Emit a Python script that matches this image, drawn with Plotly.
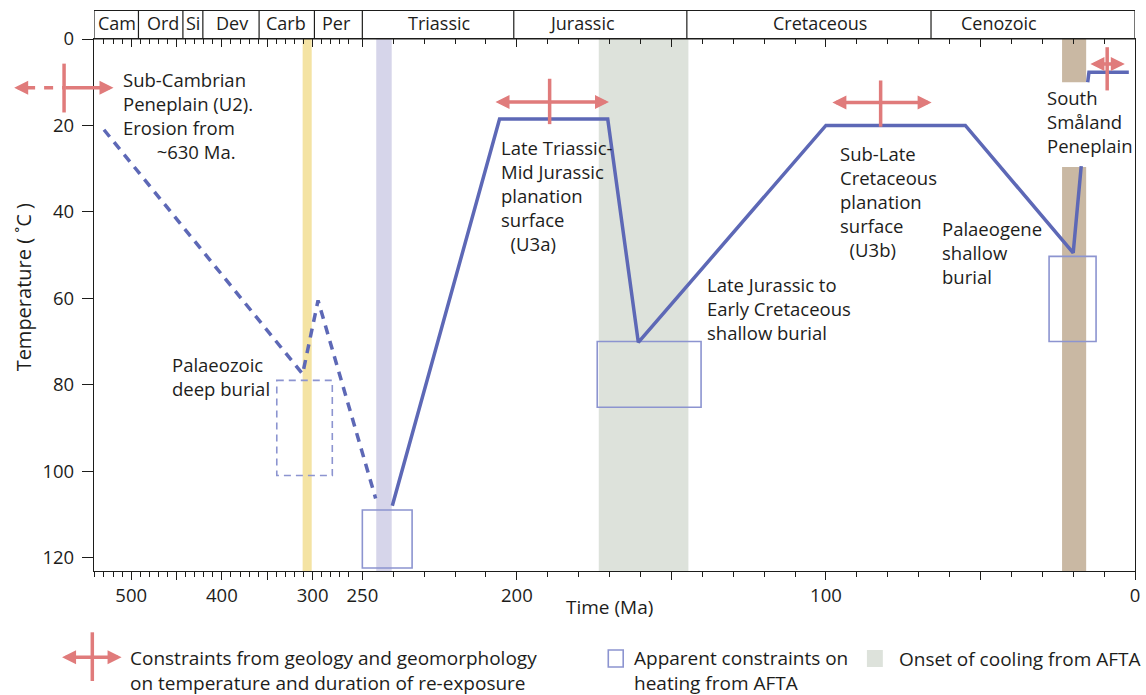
import plotly.graph_objects as go

# ---------------- DATA ----------------
# Geological time scale (boundaries in Ma) and labels
period_bounds = [541, 492, 443, 421, 359, 298, 250, 201, 145, 66, 0]
period_names = ["Cam", "Ord", "Si", "Dev", "Carb", "Per", "Triassic", "Jurassic", "Cretaceous", "Cenozoic"]
period_label_ma = [516, 465, 432, 389, 329, 274, 225, 179, 102, 44]

# Time-temperature path: poorly constrained Palaeozoic part (dashed)
dashed_ma = [530, 311, 294, 245.7]
dashed_temp = [21, 77.5, 60.5, 106.3]
# Mesozoic-Cenozoic path (solid); None = gap behind the label
solid_ma = [240.3, 205.6, 170.6, 160.7, 100, 54.9, 20, 17.4, None, 15.3, 14.9, 2]
solid_temp = [108, 18.5, 18.5, 70.2, 20, 20, 49.5, 29.4, None, 10, 7.7, 7.7]

# Apparent constraints on heating from AFTA (boxes)
box_ma_old = [339.5, 250, 174, 27.8]
box_ma_young = [278.3, 233.9, 140.4, 12.6]
box_temp_min = [79, 109, 70, 50.3]
box_temp_max = [101, 122.4, 85.2, 70]
box_dashed = [True, False, False, False]

# Vertical bands (onset of cooling etc.); None = edge of plot
band_ma_old = [311, 245.5, 173.5, 23.6, 23.6]
band_ma_young = [301, 240.5, 144.5, 15.8, 15.8]
band_temp_min = [None, None, None, None, 29.6]
band_temp_max = [None, None, None, 10, None]
band_colors = ["#f4e3a3", "#d6d5ea", "#dde2db", "#c9b8a3", "#c9b8a3"]

# Constraints from geology and geomorphology (crosses)
cross_ma_from = [629, 207.4, 98.4, 14.9]
cross_ma_to = [519.5, 170.2, 65.8, 3.3]
cross_ma_mid = [574, 189.4, 82.3, 9]
cross_temp = [11.3, 14.6, 14.7, 5.8]
cross_temp_min = [5.7, 9.2, 9.6, 1.9]
cross_temp_max = [17, 19.7, 20.3, 11.9]

# Axis ticks
major_ticks_ma = [500, 450, 400, 350, 300, 250, 200, 150, 100, 50, 0]
major_tick_text = ["500", "", "400", "", "300", "250", "200", "", "100", "", "0"]
minor_ticks_ma = [m for m in range(540, 255, -10) if m % 50] + [m for m in range(240, 0, -10) if m % 50]
temp_ticks = [0, 20, 40, 60, 80, 100, 120]

# ---------------- SCALE (broken time axis) ----------------
T_BREAK = 252          # older than this the time axis is compressed
K_OLD = 0.2935         # compression factor of the Palaeozoic part


def to_axis(ma):
    if ma is None:
        return None
    return ma if ma <= T_BREAK else T_BREAK + (ma - T_BREAK) * K_OLD


X_LEFT, X_RIGHT = to_axis(541), 0
Y_BOTTOM, Y_TOP = 123.1, 0
W, H = 1146, 695
ML, MR, MT, MB = 94, 5.5, 39, 124
PW, PH = W - ML - MR, H - MT - MB


def xp(ma):
    return (X_LEFT - to_axis(ma)) / (X_LEFT - X_RIGHT)


def yp(t):
    return (Y_BOTTOM - t) / (Y_BOTTOM - Y_TOP)


BLUE = "#5d68b6"
BOX = "#8c94d0"
RED = "#e07b7b"
INK = "#1d1d1b"
FONT = "Open Sans, Noto Sans, sans-serif"
FS = 18.5

fig = go.Figure()
shapes, annotations = [], []

# bands
for i in range(len(band_ma_old)):
    y_top = 1 if band_temp_min[i] is None else yp(band_temp_min[i])
    y_bot = 0 if band_temp_max[i] is None else yp(band_temp_max[i])
    shapes.append(dict(type="rect", xref="x", yref="paper",
                       x0=to_axis(band_ma_old[i]), x1=to_axis(band_ma_young[i]),
                       y0=y_bot, y1=y_top, fillcolor=band_colors[i],
                       line=dict(width=0), layer="below"))

# AFTA boxes
for i in range(len(box_ma_old)):
    shapes.append(dict(type="rect", xref="x", yref="y",
                       x0=to_axis(box_ma_old[i]), x1=to_axis(box_ma_young[i]),
                       y0=box_temp_min[i], y1=box_temp_max[i],
                       line=dict(color=BOX, width=1.6, dash="7px,5px" if box_dashed[i] else "solid"),
                       layer="below"))

# paths
fig.add_trace(go.Scatter(x=[to_axis(m) for m in dashed_ma], y=dashed_temp, mode="lines",
                         line=dict(color=BLUE, width=3.5, dash="9px,7px"),
                         hoverinfo="skip", showlegend=False))
fig.add_trace(go.Scatter(x=[to_axis(m) for m in solid_ma], y=solid_temp, mode="lines",
                         line=dict(color=BLUE, width=3.5), connectgaps=False,
                         hoverinfo="skip", showlegend=False))
# helper trace for top axis
fig.add_trace(go.Scatter(x=[to_axis(100)], y=[None], xaxis="x2", mode="markers",
                         hoverinfo="skip", showlegend=False))

ARW = dict(text="", showarrow=True, arrowhead=2, startarrowhead=2, arrowsize=0.8,
           startarrowsize=0.8, arrowwidth=3.5, arrowcolor=RED, font=dict(size=1),
           standoff=0, startstandoff=0)

# crosses
for i in range(len(cross_ma_mid)):
    if to_axis(cross_ma_mid[i]) <= X_LEFT:
        annotations.append(dict(xref="x", yref="y", axref="x", ayref="y",
                                x=to_axis(cross_ma_to[i]), y=cross_temp[i],
                                ax=to_axis(cross_ma_from[i]), ay=cross_temp[i],
                                arrowside="end+start", **ARW))
        shapes.append(dict(type="line", xref="x", yref="y",
                           x0=to_axis(cross_ma_mid[i]), x1=to_axis(cross_ma_mid[i]),
                           y0=cross_temp_min[i], y1=cross_temp_max[i],
                           line=dict(color=RED, width=3.5), layer="above"))
    else:
        # cross older than the axis start: same scale, drawn in paper coordinates
        xh_old, xm, xh_young = xp(cross_ma_from[i]), xp(cross_ma_mid[i]), xp(cross_ma_to[i])
        yc = yp(cross_temp[i])
        annotations.append(dict(xref="paper", yref="paper", axref="pixel", ayref="pixel",
                                x=xh_old, y=yc, ax=12, ay=0, arrowside="end", **ARW))
        shapes.append(dict(type="line", xref="paper", yref="paper",
                           x0=xh_old + 12 / PW, x1=xm, y0=yc, y1=yc,
                           line=dict(color=RED, width=3.5, dash="9px,9px")))
        annotations.append(dict(xref="paper", yref="paper", axref="pixel", ayref="pixel",
                                x=xh_young, y=yc, ax=(xm - xh_young) * PW, ay=0,
                                arrowside="end", **ARW))
        shapes.append(dict(type="line", xref="paper", yref="paper", x0=xm, x1=xm,
                           y0=yp(cross_temp_min[i]), y1=yp(cross_temp_max[i]),
                           line=dict(color=RED, width=3.5)))


def px_x(p):
    return (p - ML) / PW


def px_y(p):
    return (MT + PH - p) / PH


# geological time bar
GEO_TOP = 1 + 28.5 / PH
shapes.append(dict(type="rect", xref="x", yref="paper", x0=to_axis(period_bounds[0]),
                   x1=to_axis(period_bounds[-1]), y0=1, y1=GEO_TOP,
                   line=dict(color=INK, width=1.2)))
for b in period_bounds[1:-1]:
    shapes.append(dict(type="line", xref="x", yref="paper", x0=to_axis(b), x1=to_axis(b),
                       y0=1, y1=GEO_TOP, line=dict(color=INK, width=1.2)))
for name, m in zip(period_names, period_label_ma):
    annotations.append(dict(xref="x", yref="paper", x=to_axis(m), y=px_y(23),
                            text=name, showarrow=False, xanchor="center", yanchor="middle",
                            font=dict(size=18, color=INK, family=FONT)))

# labels
NB = "\u00a0"
labels = [
    (511, 17.6, "Sub-Cambrian<br>Peneplain (U2).<br>Erosion from<br>" + NB * 7 + "~630 Ma."),
    (457, 78.1, "Palaeozoic<br>deep burial"),
    (205.8, 36.3, "Late Triassic-<br>Mid Jurassic<br>planation<br>surface<br>" + NB * 2 + "(U3a)"),
    (139.2, 62.3, "Late Jurassic to<br>Early Cretaceous<br>shallow burial"),
    (96.2, 37.5, "Sub-Late<br>Cretaceous<br>planation<br>surface<br>" + NB * 2 + "(U3b)"),
    (63.2, 49.5, "Palaeogene<br>shallow<br>burial"),
    (29, 19.1, "South<br>Småland<br>Peneplain"),
]
for m, t, txt in labels:
    annotations.append(dict(xref="x", yref="y", x=to_axis(m), y=t, text=txt, showarrow=False,
                            xanchor="left", yanchor="middle", align="left",
                            font=dict(size=FS, color=INK, family=FONT)))

# axis titles
annotations.append(dict(xref="paper", yref="paper", x=px_x(612), y=px_y(607),
                        text="Time (Ma)", showarrow=False, xanchor="center", yanchor="middle",
                        font=dict(size=19, color=INK, family=FONT)))
annotations.append(dict(xref="paper", yref="paper", x=px_x(23), y=px_y(287),
                        text="Temperature ( ˚C )", textangle=-90, showarrow=False,
                        xanchor="center", yanchor="middle",
                        font=dict(size=20, color=INK, family=FONT)))

# legend (paper coordinates)
LFS = 19
annotations.append(dict(xref="paper", yref="paper", axref="pixel", ayref="pixel",
                        x=px_x(121.7), y=px_y(657.3), ax=-61, ay=0, arrowside="end+start", **ARW))
shapes.append(dict(type="line", xref="paper", yref="paper", x0=px_x(92.3), x1=px_x(92.3),
                   y0=px_y(632.3), y1=px_y(681), line=dict(color=RED, width=3.5)))
annotations.append(dict(xref="paper", yref="paper", x=px_x(128), y=px_y(670),
                        text="Constraints from geology and geomorphology<br>on temperature and duration of re-exposure",
                        showarrow=False, xanchor="left", yanchor="middle", align="left",
                        font=dict(size=LFS, color=INK, family=FONT)))
shapes.append(dict(type="rect", xref="paper", yref="paper", x0=px_x(611), x1=px_x(626),
                   y0=px_y(667), y1=px_y(650), line=dict(color=BOX, width=1.6)))
annotations.append(dict(xref="paper", yref="paper", x=px_x(635), y=px_y(670),
                        text="Apparent constraints on<br>heating from AFTA",
                        showarrow=False, xanchor="left", yanchor="middle", align="left",
                        font=dict(size=LFS, color=INK, family=FONT)))
shapes.append(dict(type="rect", xref="paper", yref="paper", x0=px_x(871), x1=px_x(887),
                   y0=px_y(667), y1=px_y(650), fillcolor="#dde2db", line=dict(width=0)))
annotations.append(dict(xref="paper", yref="paper", x=px_x(901), y=px_y(659),
                        text="Onset of cooling from AFTA",
                        showarrow=False, xanchor="left", yanchor="middle", align="left",
                        font=dict(size=LFS, color=INK, family=FONT)))

major_u = [to_axis(m) for m in major_ticks_ma]
minor_u = [to_axis(m) for m in minor_ticks_ma]

fig.update_layout(
    width=W, height=H, autosize=False,
    margin=dict(l=ML, r=MR, t=MT, b=MB),
    plot_bgcolor="white", paper_bgcolor="white",
    font=dict(family=FONT, size=FS, color=INK),
    showlegend=False, hovermode=False,
    shapes=shapes, annotations=annotations,
    xaxis=dict(range=[X_LEFT, X_RIGHT], tickmode="array", tickvals=major_u,
               ticktext=major_tick_text, ticks="outside", ticklen=8, tickwidth=1.2,
               tickcolor=INK, showline=True, linecolor=INK, linewidth=1.2, mirror=True,
               showgrid=False, zeroline=False, tickfont=dict(size=18.5, color=INK),
               ticklabeloverflow="allow",
               minor=dict(tickmode="array", tickvals=minor_u, ticks="outside", ticklen=5,
                          tickwidth=1.2, tickcolor=INK, showgrid=False)),
    xaxis2=dict(range=[X_LEFT, X_RIGHT], overlaying="x", side="top", anchor="y",
                tickmode="array", tickvals=major_u, showticklabels=False,
                ticks="inside", ticklen=8, tickwidth=1.2, tickcolor=INK,
                showline=False, showgrid=False, zeroline=False,
                minor=dict(tickmode="array", tickvals=minor_u, ticks="inside", ticklen=5,
                           tickwidth=1.2, tickcolor=INK, showgrid=False)),
    yaxis=dict(range=[Y_BOTTOM, Y_TOP], tickmode="array", tickvals=temp_ticks,
               ticks="outside", ticklen=11, tickwidth=1.2, tickcolor=INK,
               showline=True, linecolor=INK, linewidth=1.2, mirror=True,
               showgrid=False, zeroline=False, tickfont=dict(size=18.5, color=INK),
               ticklabelstandoff=4),
)

fig.write_html("out.html", config={"displayModeBar": False},
               post_script="document.body.style.margin='0';")
